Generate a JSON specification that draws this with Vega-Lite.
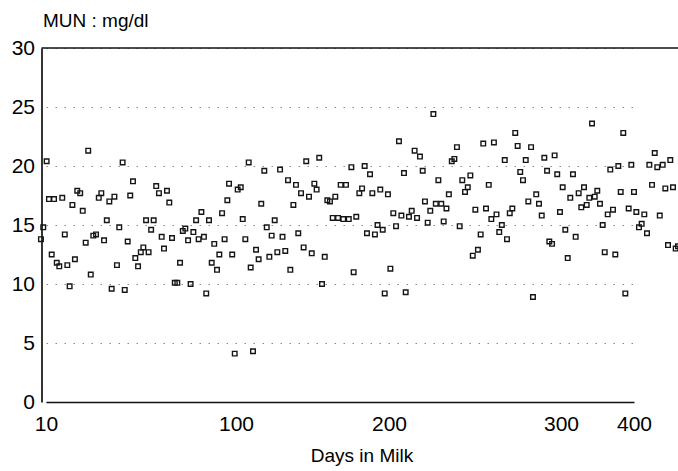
{
  "$schema": "https://vega.github.io/schema/vega-lite/v6.json",
  "autosize": {"type": "none"},
  "padding": {"left": 41.5, "top": 48, "right": 0, "bottom": 69},
  "width": 636.5,
  "height": 354,
  "background": "white",
  "config": {
    "view": {"stroke": null},
    "font": "Liberation Sans, Arial, Helvetica, sans-serif"
  },
  "datasets": {
    "pts": [
{"d":7.6,"m":13.8},{"d":8.7,"m":14.8},{"d":10.3,"m":20.4},{"d":11.4,"m":17.2},{"d":13.8,"m":17.2},{"d":12.7,"m":12.5},{"d":15.1,"m":11.8},{"d":16.3,"m":11.5},{"d":17.7,"m":17.3},{"d":18.9,"m":14.2},{"d":20.1,"m":11.6},{"d":21.2,"m":9.8},{"d":22.5,"m":16.7},{"d":23.7,"m":12.1},{"d":24.8,"m":17.9},{"d":26.2,"m":17.7},{"d":27.4,"m":16.2},{"d":28.8,"m":13.5},{"d":30.0,"m":21.3},{"d":31.2,"m":10.8},{"d":32.4,"m":14.1},{"d":33.7,"m":14.2},{"d":35.0,"m":17.3},{"d":36.2,"m":17.7},{"d":37.5,"m":13.7},{"d":38.8,"m":15.4},{"d":40.0,"m":17.0},{"d":41.1,"m":9.6},{"d":42.4,"m":17.4},{"d":43.6,"m":11.6},{"d":44.7,"m":14.8},{"d":46.3,"m":20.3},{"d":47.3,"m":9.5},{"d":48.7,"m":13.6},{"d":49.9,"m":17.5},{"d":51.2,"m":18.7},{"d":52.3,"m":12.2},{"d":53.6,"m":11.5},{"d":54.9,"m":12.7},{"d":56.1,"m":13.1},{"d":57.4,"m":15.4},{"d":58.6,"m":12.7},{"d":59.8,"m":14.6},{"d":61.0,"m":15.4},{"d":62.2,"m":18.3},{"d":63.5,"m":17.7},{"d":64.8,"m":14.0},{"d":65.9,"m":13.0},{"d":67.3,"m":17.9},{"d":68.4,"m":16.9},{"d":69.7,"m":13.9},{"d":71.0,"m":10.1},{"d":72.2,"m":10.1},{"d":73.5,"m":11.8},{"d":74.8,"m":14.5},{"d":76.0,"m":14.7},{"d":77.3,"m":13.7},{"d":78.5,"m":10.0},{"d":79.8,"m":14.4},{"d":81.1,"m":15.4},{"d":82.3,"m":13.8},{"d":83.6,"m":16.1},{"d":84.8,"m":14.0},{"d":85.9,"m":9.2},{"d":87.2,"m":15.4},{"d":88.5,"m":11.8},{"d":89.7,"m":13.4},{"d":91.0,"m":11.2},{"d":92.1,"m":12.5},{"d":93.4,"m":16.0},{"d":94.6,"m":13.8},{"d":95.9,"m":17.1},{"d":96.7,"m":18.5},{"d":98.2,"m":12.5},{"d":99.4,"m":4.1},
{"d":101.1,"m":18.0},{"d":103.1,"m":18.2},{"d":104.4,"m":15.5},{"d":106.1,"m":13.8},{"d":108.3,"m":20.3},{"d":109.6,"m":11.4},{"d":111.1,"m":4.3},{"d":113.1,"m":12.9},{"d":114.8,"m":12.1},{"d":116.5,"m":16.8},{"d":118.5,"m":19.6},{"d":120.1,"m":14.8},{"d":121.8,"m":12.3},{"d":123.3,"m":14.1},{"d":125.3,"m":15.4},{"d":127.0,"m":12.7},{"d":128.8,"m":19.7},{"d":130.4,"m":14.0},{"d":132.2,"m":12.8},{"d":134.0,"m":18.8},{"d":135.5,"m":11.2},{"d":137.5,"m":16.7},{"d":139.2,"m":18.4},{"d":140.7,"m":14.3},{"d":142.5,"m":17.7},{"d":144.2,"m":13.1},{"d":145.9,"m":20.4},{"d":147.7,"m":17.4},{"d":149.5,"m":12.6},{"d":151.2,"m":18.5},{"d":152.7,"m":18.0},{"d":154.4,"m":20.7},{"d":156.2,"m":10.0},{"d":158.0,"m":12.3},{"d":159.7,"m":17.1},{"d":161.4,"m":17.0},{"d":163.2,"m":15.6},{"d":164.9,"m":17.4},{"d":166.7,"m":15.6},{"d":168.4,"m":18.4},{"d":170.1,"m":15.5},{"d":171.9,"m":18.4},{"d":173.7,"m":15.5},{"d":175.4,"m":19.9},{"d":176.9,"m":11.0},{"d":178.6,"m":15.7},{"d":180.6,"m":17.7},{"d":182.4,"m":18.1},{"d":184.1,"m":20.0},{"d":185.6,"m":14.3},{"d":187.6,"m":19.3},{"d":189.1,"m":17.7},{"d":190.8,"m":14.2},{"d":192.5,"m":15.0},{"d":194.3,"m":18.0},{"d":195.9,"m":14.6},{"d":197.2,"m":9.2},{"d":199.3,"m":17.6},
{"d":200.8,"m":11.3},{"d":202.5,"m":16.0},{"d":204.1,"m":14.9},{"d":205.8,"m":22.1},{"d":207.2,"m":15.8},{"d":208.7,"m":19.4},{"d":209.7,"m":9.3},{"d":211.6,"m":15.7},{"d":213.2,"m":16.2},{"d":214.9,"m":21.3},{"d":216.3,"m":15.6},{"d":218.0,"m":20.8},{"d":219.6,"m":19.6},{"d":220.9,"m":17.0},{"d":222.5,"m":15.2},{"d":224.0,"m":16.2},{"d":225.8,"m":24.4},{"d":227.2,"m":16.8},{"d":228.7,"m":18.8},{"d":230.4,"m":16.8},{"d":231.8,"m":15.3},{"d":233.4,"m":16.4},{"d":234.8,"m":17.6},{"d":236.5,"m":20.4},{"d":238.0,"m":20.6},{"d":239.5,"m":21.6},{"d":241.1,"m":14.9},{"d":242.6,"m":18.8},{"d":244.2,"m":17.8},{"d":245.8,"m":18.2},{"d":247.3,"m":19.2},{"d":248.7,"m":12.4},{"d":250.2,"m":16.3},{"d":251.7,"m":12.9},{"d":253.3,"m":14.2},{"d":254.8,"m":21.9},{"d":256.4,"m":16.4},{"d":258.0,"m":18.4},{"d":259.5,"m":15.5},{"d":261.0,"m":22.0},{"d":262.5,"m":15.9},{"d":264.1,"m":14.4},{"d":265.6,"m":15.0},{"d":267.3,"m":20.5},{"d":268.6,"m":13.8},{"d":270.2,"m":16.0},{"d":271.7,"m":16.4},{"d":273.4,"m":22.8},{"d":274.8,"m":21.7},{"d":276.3,"m":19.5},{"d":277.9,"m":18.8},{"d":279.5,"m":20.5},{"d":281.0,"m":17.0},{"d":282.6,"m":21.6},{"d":283.7,"m":8.9},{"d":285.6,"m":17.6},{"d":287.2,"m":16.8},{"d":288.8,"m":15.8},{"d":290.3,"m":20.7},{"d":291.9,"m":19.6},{"d":293.2,"m":13.6},{"d":294.8,"m":13.4},{"d":296.3,"m":20.9},{"d":297.8,"m":19.3},{"d":299.4,"m":16.1},
{"d":302.3,"m":18.2},{"d":305.9,"m":14.6},{"d":309.2,"m":12.2},{"d":312.7,"m":17.3},{"d":316.4,"m":19.3},{"d":320.1,"m":14.0},{"d":324.2,"m":17.7},{"d":327.8,"m":16.5},{"d":331.5,"m":18.2},{"d":335.2,"m":16.7},{"d":338.8,"m":17.3},{"d":342.5,"m":23.6},{"d":346.2,"m":17.4},{"d":349.7,"m":17.9},{"d":353.4,"m":16.8},{"d":357.1,"m":15.0},{"d":359.9,"m":12.7},{"d":364.0,"m":15.9},{"d":367.5,"m":19.7},{"d":371.2,"m":16.3},{"d":374.4,"m":12.5},{"d":378.5,"m":20.0},{"d":381.8,"m":17.8},{"d":385.3,"m":22.8},{"d":388.1,"m":9.2},{"d":392.7,"m":16.4},{"d":396.3,"m":20.1},{"d":400.0,"m":17.8},{"d":403.2,"m":16.1},{"d":406.8,"m":14.8},{"d":410.5,"m":15.1},{"d":414.1,"m":15.9},{"d":417.8,"m":14.3},{"d":421.0,"m":20.1},{"d":424.7,"m":18.4},{"d":428.4,"m":21.1},{"d":431.9,"m":19.9},{"d":435.3,"m":15.8},{"d":439.3,"m":20.1},{"d":442.9,"m":18.1},{"d":446.6,"m":13.3},{"d":449.7,"m":20.5},{"d":453.4,"m":18.2},{"d":457.1,"m":13.0},{"d":460.3,"m":13.2}
    ]
  },
  "layer": [
    {
      "data": {"name": "pts"},
      "mark": {"type": "point", "shape": "square", "filled": false, "size": 21, "strokeWidth": 1.4, "color": "#151515", "opacity": 1},
      "encoding": {
        "x": {
          "field": "d", "type": "quantitative",
          "scale": {"domain": [10, 100, 200, 300, 400], "range": [4.5, 194.5, 347.5, 519.5, 592.5], "nice": false, "zero": false},
          "axis": {
            "values": [10, 100, 200, 300, 400], "format": "d",
            "title": "Days in Milk", "titleFontSize": 19, "titleFontWeight": "normal", "titleColor": "#000",
            "titleX": 320, "titleY": 59, "titleBaseline": "alphabetic", "titleAlign": "center",
            "labelFontSize": 21, "labelColor": "#000", "labelPadding": 11, "labelFlush": false, "labelOverlap": false,
            "ticks": false, "tickSize": 0, "grid": false,
            "domain": true, "domainColor": "#111", "domainWidth": 1.7
          }
        },
        "y": {
          "field": "m", "type": "quantitative",
          "scale": {"domain": [0, 30], "nice": false, "zero": true},
          "axis": {
            "values": [0, 5, 10, 15, 20, 25, 30],
            "title": "MUN : mg/dl", "titleAngle": 0, "titleX": 1, "titleY": -22, "titleAlign": "left", "titleBaseline": "alphabetic",
            "titleFontSize": 19, "titleFontWeight": "normal", "titleColor": "#000",
            "labelFontSize": 21, "labelColor": "#000", "labelPadding": 7, "labelFlush": false, "labelOverlap": false,
            "ticks": false, "tickSize": 0,
            "grid": true, "gridColor": "#8a8a8a", "gridDash": [1.5, 7.5], "gridWidth": 1.2,
            "domain": true, "domainColor": "#111", "domainWidth": 1.7
          }
        }
      }
    },
    {
      "data": {"values": [{"top": 30}]},
      "mark": {"type": "rule", "color": "#111", "strokeWidth": 1.7},
      "encoding": {"y": {"field": "top", "type": "quantitative"}}
    }
  ]
}
